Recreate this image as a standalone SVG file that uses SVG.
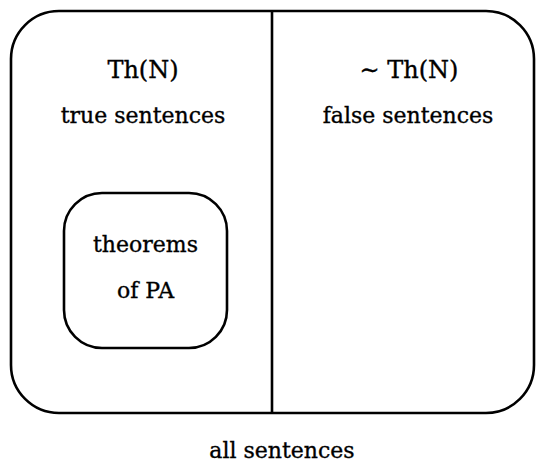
<svg xmlns="http://www.w3.org/2000/svg" width="537" height="463" viewBox="0 0 537 463">
<style>
.box{fill:none;stroke:#000;stroke-width:2.6}
.t{font-family:"DejaVu Serif","Liberation Serif",serif;font-size:22px;fill:#000;stroke:#000;stroke-width:0.35;text-anchor:middle}
.big{font-size:24px}
</style>
<rect width="537" height="463" fill="#fff"/>
<g id="all-sentences">
<rect class="box" x="11" y="11" width="523" height="402" rx="48" ry="48"/>
<text class="t" x="282" y="458">all sentences</text>
</g>
<g id="divider">
<line class="box" x1="272" y1="11" x2="272" y2="413"/>
</g>
<g id="true-sentences">
<text class="t big" x="143" y="78">Th(N)</text>
<text class="t" x="143" y="123">true sentences</text>
</g>
<g id="false-sentences">
<text class="t big" x="409" y="78">∼ Th(N)</text>
<text class="t" x="408" y="123">false sentences</text>
</g>
<g id="theorems-of-PA">
<rect class="box" x="64" y="193" width="163" height="155" rx="38" ry="38"/>
<text class="t" x="145.5" y="252">theorems</text>
<text class="t" x="145.5" y="298">of PA</text>
</g>
</svg>
